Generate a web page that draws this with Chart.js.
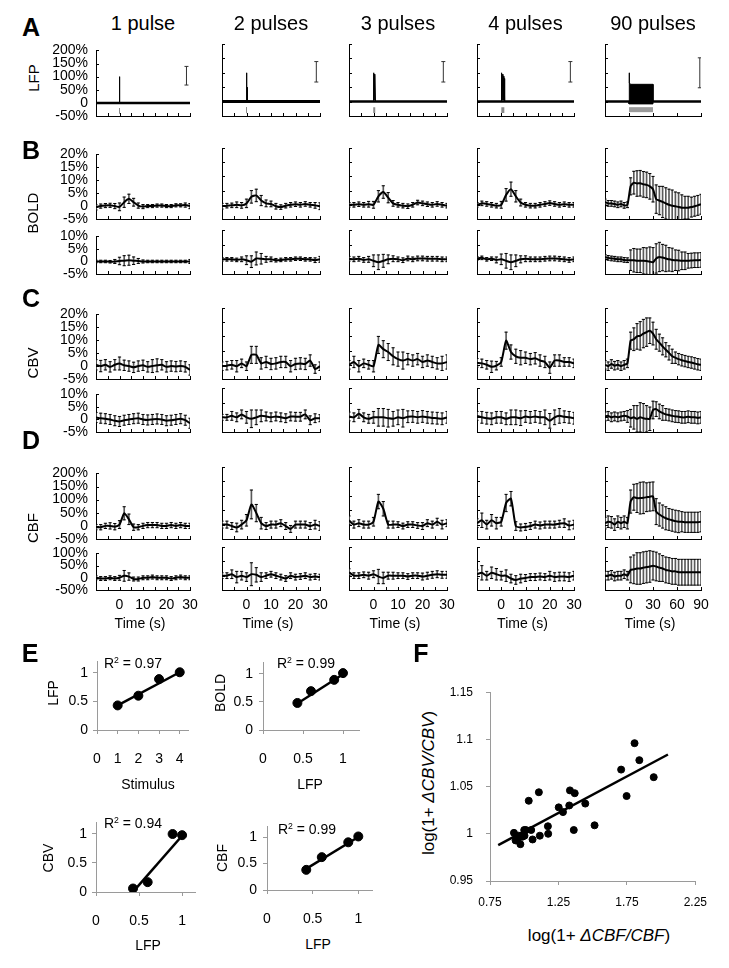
<!DOCTYPE html>
<html>
<head>
<meta charset="utf-8">
<script src="https://cdn.jsdelivr.net/npm/chart.js@4.4.1/dist/chart.umd.min.js"></script>
<style>
body { margin: 0; background: #fff; }
#fig { position: relative; width: 729px; height: 968px; overflow: hidden; font-family: "Liberation Sans", Arial, sans-serif; color: #000; }
#fig canvas { position: absolute; }
.t { position: absolute; white-space: nowrap; transform: translate(-50%, -50%); line-height: 1; z-index: 2; }
.t.r { transform: translate(-50%, -50%) rotate(-90deg); }
.t sup { font-size: 0.62em; vertical-align: 0.55em; line-height: 0; }
</style>
</head>
<body>
<div id="fig"></div>
<script>
// ---- data ----
const pulseLabels = ['1 pulse', '2 pulses', '3 pulses', '4 pulses', '90 pulses'];
const tShort = [-10,-8,-6,-4,-2,0,2,4,6,8,10,12,14,16,18,20,22,24,26,28,30];
const tLong = [-30,-26,-22,-18,-14,-10,-6,-2,2,6,10,14,18,22,26,30,34,38,42,46,50,54,58,62,66,70,74,78,82,86,90];

// LFP spikes (time s, % change)
const spikeT = [
  [0,0,0.1],
  [0,0,0.15,0.3,0.3,0.45],
  [0,0,0.2,0.3,0.5,0.6,0.8],
  [0,0,0.3,0.4,0.7,0.8,1.1,1.2,1.4],
  [0,0,0.8,2,30,30]
];
const spikeV = [
  [0,100,0],
  [0,100,0,0,50,0],
  [0,100,5,95,5,90,0],
  [0,100,5,95,5,88,5,80,0],
  [0,100,65,60,60,0]
];
const blockLowT = [0,0,30,30];
const blockLowV = [0,-8,-8,0];
const stimStart = [0,0,0,0,0];
const stimEnd = [0,0,0.6,1.3,30];
const scaleBarT = [28.5,28.5,28.5,28.5,88.5];
const scaleBarLo = [68,68,68,68,48];
const scaleBarHi = [139,139,139,139,152];

const boldResp = [
  [-0.5,0,0.2,0.3,0,-0.3,1.5,2.8,1.5,0.2,-0.2,0,0,0.2,0.2,0,0,0.3,0.3,0.4,0],
  [-0.5,-0.3,-0.2,0,-0.2,0.5,2.8,3.3,1.5,0.5,0.3,-0.5,-0.8,-0.3,0,0.2,0,0.3,0,-0.2,-0.5],
  [0,0,0.2,0,0.2,0,3,4.5,2.5,0.5,0,-0.3,-0.5,0,0.8,0.5,0.2,0,0.3,0,-0.3],
  [0,0.5,0.3,0,-0.3,0,3.5,5.5,3,0.8,0,-0.3,-0.3,0,0.3,0.6,0.3,0,0.2,0,0],
  [1,0.5,0.5,0.3,0,0.3,-0.2,0,6.5,7.8,7.5,7.6,7.2,7,6.5,5.5,2,1.5,1,0.5,0,-0.3,-0.5,-0.8,-1,-1,-1,-0.8,-0.5,-0.2,0.2]
];
const boldRespErr = [
  [1,0.8,0.8,0.8,1,1.5,2,1.8,1.5,1,0.8,0.6,0.6,0.6,0.6,0.6,0.6,0.6,0.6,0.8,1],
  [1,0.8,0.8,1,1,1.5,2.2,2.2,1.8,1.2,1,1,0.8,0.8,0.8,0.8,0.8,0.8,0.8,1,1.2],
  [0.8,0.8,0.8,0.8,1,1.2,2,2.2,1.8,1,0.8,0.8,0.8,0.8,0.8,0.8,0.8,0.8,0.8,0.8,0.8],
  [0.8,0.8,0.8,0.8,0.8,1.2,2.2,2.5,2,1.2,0.8,0.8,0.8,0.8,0.8,0.8,0.8,0.8,0.8,0.8,0.8],
  [1,1,1,1,1,1,1,1,3,4,4.5,4.5,4.5,4.5,4.5,4.5,5,5,5.5,5.5,5.5,5.5,5,5,4.5,4,4,3.5,3.5,3.5,3.5]
];
const boldCtrl = [
  [0,0,0,-0.1,0,0.2,0.3,0.5,0.3,0.2,0,0,0,0,0,0,0,0,0,0,0],
  [0,0,0,-0.2,0,-0.3,-0.8,0.3,0.2,0,0,-0.3,-0.2,0,0,0.2,0.2,0,0,-0.3,0],
  [0.2,0,0.2,-0.2,0,-0.5,-1,-0.5,0,0.2,0,-0.3,0.3,0,0.3,0.3,0.2,0.2,0.2,0,0],
  [0.3,0.5,0,0.2,-0.2,0,-0.5,-1,-0.5,0,0.2,0,0,0,0.2,0.3,0.3,0.2,0,-0.2,0],
  [0.8,0.5,0.3,0.2,0,0,-0.2,-0.3,-0.3,-0.3,-0.5,-0.5,-0.5,-0.6,-0.8,-1,0.3,0.8,0.6,0.3,0,-0.2,-0.3,-0.4,-0.5,-0.5,-0.5,-0.4,-0.3,-0.3,-0.2]
];
const boldCtrlErr = [
  [0.5,0.5,0.5,0.5,0.8,1.5,2,2,1.5,1,0.6,0.5,0.5,0.5,0.5,0.5,0.5,0.5,0.5,0.5,0.8],
  [0.6,0.6,0.6,0.6,0.8,1.5,2,2.2,1.8,1,0.8,0.6,0.6,0.6,0.6,0.6,0.6,0.6,0.6,0.8,1],
  [0.8,0.8,0.8,0.8,1,2,2.5,2.2,1.5,1,0.8,0.8,0.8,0.8,0.8,0.8,0.8,0.8,0.8,0.8,0.8],
  [0.6,0.6,0.6,0.6,1,1.8,2.5,2.5,2,1.2,1,0.8,0.8,0.8,0.8,0.8,0.8,0.8,0.8,0.8,0.8],
  [0.8,0.8,0.8,0.8,0.8,0.8,0.8,0.8,3.5,4,4,4,4.5,4.5,5,5,5,5,4.5,4.5,4,4,3.5,3.5,3,3,2.5,2.5,2.5,2.5,2.5]
];
const cbvResp = [
  [0.5,0,0.5,-0.3,0.5,1,0.3,0,-0.5,0,0.3,-0.3,0,0.3,0.5,-0.3,0,-0.2,0,-0.3,-1.5],
  [-0.5,-0.3,0,-0.5,0.5,-0.5,3.5,3.5,0.5,1,0.3,0.5,1,1,-0.5,0.3,0.5,0.3,1.5,-1.5,-0.5],
  [0,1,-0.5,0.5,0,-0.5,7,5.5,4.5,3,2,1.5,2,1.5,2,1,1.5,1,0.5,0.5,1],
  [0.7,0.5,0,-0.7,-0.3,1,8.5,4.5,3,2.5,2.5,2,2.3,1.5,1,-1,1.5,1.5,1,1,0.5],
  [0,-0.5,0.3,-0.3,0,-0.5,0,0.5,8.5,9,10,10.2,11,11.5,12,11,9,7.8,6.5,5.3,4.2,3,2.5,2,1.6,1.3,1,0.8,0.5,0.2,0]
];
const cbvRespErr = [
  [2,2.2,2,2,2,2.5,2,2,2,2,2,2,2.5,2.5,2,2,2,2,2,2,2],
  [1.5,1.5,1.5,2,1.5,1.5,3,3,2,2,2,2,2,2,2,2,2,2,2,1.5,1.5],
  [1.5,2,2,1.5,1.5,2,3,3,3,3,2.5,3,2,2,2,2,2,2,2,2.5,2.5],
  [1.5,1.5,1.5,2,1.5,1.5,3,2.5,2.5,2.5,2,2,2,2,2,2,2,2,1.5,1.5,1.5],
  [1.5,1.5,1.5,1.5,1.5,1.5,1.5,1.5,3,4,4.5,5,5,5,4.5,4,3.5,3,3,2.5,2.5,2.5,2,2,2,2,2,2,2,2,2]
];
const cbvCtrl = [
  [0.8,0.5,0.3,0,-0.5,-0.8,-0.3,0,0.3,0.5,0,-0.2,0,0.2,0,-0.5,-0.3,0,0.3,-0.3,-1.5],
  [0,0,0.5,0,1,0,-0.5,0,0.5,0.3,0,0.3,0,-0.3,0.3,0.2,0.2,1,-1,-0.3,-0.3],
  [0.3,0,1.2,0,-0.5,0,0,0,-0.3,-0.5,0,-0.3,0.2,0.3,0,0.3,0,-0.2,-0.3,-0.5,0],
  [0.5,0,-0.3,-0.5,0,0,-0.5,0,0,-0.3,0.3,0,0.3,0,0,-1.2,0,0.5,0.2,0,-0.3],
  [0.3,0.5,0,0.3,0,0.3,0.5,0.3,-0.3,0,-0.5,0,-0.3,-0.5,-0.5,2.5,2.8,2,1.5,1,0.8,0.5,0.3,0.2,0,0,0.2,0,0,-0.2,0]
];
const cbvCtrlErr = [
  [2,2,2,2,2,2,2,2,2,2,2,2,2,2,2,2,2,2,2,2,2],
  [1,1,1.5,1.5,1.5,2,3,2.5,2,1.5,1.5,1.5,1.5,1.5,1.5,1.5,1.5,1.5,1.5,1.5,1.2],
  [1.5,1.5,1.5,1.5,1.5,2,3,3,3,2.5,2.5,3,2,2,2,2,2,2,2,2,2],
  [1.5,2,2,2,2,2,2,2.5,2.5,2.5,2,2,2,2,2.5,2.5,2.5,2.5,2,2,2],
  [1.5,1.5,1.5,1.5,1.5,1.5,1.5,2,3,4,4.5,5,5,4.5,4,3,2.5,2.5,2.5,2,2,2,2,2,2,2,2,2,2,2,2]
];
const cbfResp = [
  [-5,-5,0,0,-3,5,48,25,-5,-5,0,3,3,3,0,0,3,0,3,0,0],
  [0,0,-5,-10,0,15,70,40,5,-5,0,0,5,-5,-15,0,0,0,-5,0,-5],
  [15,0,5,0,0,10,80,55,0,0,0,-5,0,0,-3,-5,5,0,10,0,5],
  [5,15,0,15,5,10,75,90,-5,-10,-8,-5,0,-3,0,0,0,3,5,-3,0],
  [5,10,8,0,10,5,10,5,80,95,92,92,93,95,97,98,45,35,28,22,18,15,12,10,10,8,8,8,8,8,10]
];
const cbfRespErr = [
  [10,10,10,12,12,15,25,20,12,10,10,10,10,10,10,10,10,10,10,10,10],
  [12,12,12,15,15,20,50,30,20,12,12,12,12,12,12,12,12,12,12,15,15],
  [15,12,12,12,12,15,25,25,12,12,10,10,10,10,10,12,12,12,12,15,12],
  [15,25,15,20,20,15,30,25,15,12,12,12,12,12,12,12,12,12,15,15,15],
  [20,20,20,20,20,20,20,20,40,45,50,55,55,50,50,50,45,40,40,40,38,38,38,38,35,35,35,35,35,35,35]
];
const cbfCtrl = [
  [0,-3,-3,0,-3,0,8,5,-5,-5,0,0,3,0,0,0,-3,0,3,0,0],
  [0,0,5,-5,0,-5,5,3,-5,0,5,0,-5,-10,0,-5,-3,0,-5,-3,-5],
  [12,0,0,3,0,5,-3,-8,0,0,0,0,-3,0,0,-3,0,3,5,3,3],
  [5,10,0,10,5,0,0,-10,-15,-10,-8,-5,-5,-3,-5,0,-5,-3,-3,-5,0],
  [0,0,3,-3,0,0,5,0,20,22,25,25,28,30,32,35,32,28,25,20,18,15,15,12,12,12,12,12,12,12,12]
];
const cbfCtrlErr = [
  [8,8,8,8,8,10,22,15,8,8,8,8,8,8,8,8,8,8,8,8,8],
  [10,10,15,20,15,15,40,25,15,10,10,10,10,10,10,10,10,10,10,10,10],
  [12,10,10,10,12,12,25,20,12,12,10,10,10,10,10,12,12,12,12,12,12],
  [15,25,15,20,20,15,20,15,15,15,12,12,12,12,12,15,15,15,15,15,15],
  [15,15,15,15,15,15,15,15,45,50,55,55,55,55,55,50,50,48,45,45,45,45,45,45,45,45,45,45,45,45,45]
];

// E: normalised peak responses
const stimLevels = [1, 2, 3, 4];
const lfpNorm = [0.43, 0.6, 0.89, 1.0];
const lfpPeak = [0.43, 0.6, 0.89, 1.01];
const boldNorm = [0.48, 0.69, 0.89, 1.01];
const cbvNorm = [0.06, 0.17, 1.0, 0.98];
const cbfNorm = [0.38, 0.62, 0.9, 1.01];
const fitLfpX = [1, 4], fitLfpY = [0.43, 1.01];
const fitBoldX = [0.43, 1.0], fitBoldY = [0.47, 0.99];
const fitCbvX = [0.44, 1.0], fitCbvY = [0.02, 0.97];
const fitCbfX = [0.41, 1.0], fitCbfY = [0.38, 1.0];

// F: log(1+dCBF/CBF) vs log(1+dCBV/CBV)
const logCbf = [0.925,0.937,0.953,0.960,0.972,0.988,1.0,1.002,1.012,1.033,1.051,1.061,1.107,1.114,1.173,1.175,1.252,1.283,1.329,1.334,1.369,1.362,1.446,1.514,1.708,1.748,1.806,1.841,1.946];
const logCbv = [1.001,0.993,0.994,0.998,0.989,0.997,1.004,0.998,1.004,1.035,1.004,0.994,1.044,0.998,1.008,1.000,1.028,1.023,1.030,1.046,1.043,1.004,1.032,1.009,1.068,1.040,1.096,1.078,1.060];
const fitFX = [0.81, 2.05], fitFY = [0.988, 1.084];

// ---- setup ----
Chart.defaults.font.family = "'Liberation Sans', Arial, sans-serif";
Chart.defaults.font.size = 14;
Chart.defaults.color = '#000';
Chart.defaults.animation = false;
Chart.defaults.plugins.legend.display = false;
Chart.defaults.plugins.tooltip.enabled = false;

const fig = document.getElementById('fig');

function label(html, x, y, size, opt) {
  opt = opt || {};
  const d = document.createElement('div');
  d.className = 't' + (opt.rot ? ' r' : '');
  d.style.left = x + 'px';
  d.style.top = y + 'px';
  d.style.fontSize = size + 'px';
  if (opt.bold) d.style.fontWeight = 'bold';
  d.innerHTML = html;
  fig.appendChild(d);
}

function addCanvas(left, top, w, h) {
  const c = document.createElement('canvas');
  c.width = w; c.height = h;
  c.style.left = left + 'px'; c.style.top = top + 'px';
  c.style.width = w + 'px'; c.style.height = h + 'px';
  fig.appendChild(c);
  return c;
}

function steps(a, b, s) {
  const out = [];
  for (let v = a; v <= b + 1e-9; v += s) out.push(v);
  return out;
}

const num = v => String(Math.round(v * 100) / 100);

// small inward tick marks like the original figure
const innerTicks = {
  id: 'innerTicks',
  afterDatasetsDraw(chart, args, opts) {
    const { ctx, chartArea: a, scales } = chart;
    ctx.save();
    ctx.strokeStyle = '#000';
    ctx.lineWidth = 1;
    ctx.beginPath();
    (opts.x || []).forEach(v => {
      const px = Math.round(scales.x.getPixelForValue(v)) + 0.5;
      ctx.moveTo(px, a.bottom); ctx.lineTo(px, a.bottom - 3);
    });
    (opts.y || []).forEach(v => {
      const py = Math.round(scales.y.getPixelForValue(v)) + 0.5;
      ctx.moveTo(a.left, py); ctx.lineTo(a.left + 3, py);
    });
    ctx.stroke();
    ctx.restore();
  }
};

const colLeft = [96, 222, 349, 477, 605];
const colWidth = [94, 98, 98, 97, 96];

const lfpRow = { top: 44, bottom: 116, min: -50, max: 200, step: 50 };
const rows = [
  { top: 148, bottom: 219, min: -5, max: 20, step: 5, m: boldResp, e: boldRespErr },
  { top: 230, bottom: 274, min: -5, max: 10, step: 5, m: boldCtrl, e: boldCtrlErr },
  { top: 308, bottom: 379, min: -5, max: 20, step: 5, m: cbvResp, e: cbvRespErr },
  { top: 388, bottom: 432, min: -5, max: 10, step: 5, m: cbvCtrl, e: cbvCtrlErr },
  { top: 467, bottom: 539, min: -50, max: 200, step: 50, m: cbfResp, e: cbfRespErr },
  { top: 547, bottom: 590, min: -50, max: 100, step: 50, m: cbfCtrl, e: cbfCtrlErr }
];

function tracePanel(c, row, datasets, showY, showX) {
  const YW = 50, PT = 10, PR = 16, XH = 24;
  const w = colWidth[c], h = row.bottom - row.top;
  const cv = addCanvas(colLeft[c] - YW, row.top - PT, YW + w + PR, PT + h + XH);
  const long = c === 4;
  new Chart(cv, {
    type: 'line',
    data: { datasets },
    options: {
      responsive: false,
      layout: { padding: { top: PT, right: PR, left: 0, bottom: 0 } },
      scales: {
        x: {
          type: 'linear', min: long ? -30 : -10, max: long ? 90 : 30, offset: false,
          grid: { display: false, drawTicks: false },
          border: { color: '#000', width: 1 },
          ticks: { display: showX, stepSize: long ? 30 : 10, includeBounds: false, autoSkip: false,
                   maxRotation: 0, padding: 7, callback: v => (v < 0 ? '' : v) },
          afterFit: s => { s.height = XH; }
        },
        y: {
          type: 'linear', min: row.min, max: row.max,
          grid: { display: false, drawTicks: false },
          border: { color: '#000', width: 1 },
          ticks: { display: showY, stepSize: row.step, padding: 8, autoSkip: false,
                   callback: v => (v === 0 ? '0' : v + '%') },
          afterFit: s => { s.width = YW; }
        }
      },
      plugins: {
        innerTicks: {
          x: long ? steps(-30, 90, 30) : steps(-10, 30, 5),
          y: steps(row.min, row.max, row.step)
        }
      }
    },
    plugins: [innerTicks]
  });
}

function errorSets(t, m, e) {
  return [
    { type: 'bar', data: t.map((x, i) => ({ x, y: [m[i] - e[i], m[i] + e[i]] })),
      backgroundColor: '#5a5a5a', barThickness: 1, order: 3 },
    { data: t.map((x, i) => ({ x, y: m[i] + e[i] })), showLine: false, pointStyle: 'line',
      pointRadius: 1.6, borderColor: '#000', borderWidth: 1, order: 2 },
    { data: t.map((x, i) => ({ x, y: m[i] - e[i] })), showLine: false, pointStyle: 'line',
      pointRadius: 1.6, borderColor: '#000', borderWidth: 1, order: 2 },
    { data: t.map((x, i) => ({ x, y: m[i] })), borderColor: '#000', borderWidth: 2,
      pointRadius: 0, tension: 0.2, order: 0 }
  ];
}

function lfpSets(c) {
  const long = c === 4;
  const xr = long ? [-30, 90] : [-10, 30];
  const sets = [
    { data: xr.map(x => ({ x, y: 0 })), borderColor: '#000', borderWidth: c === 1 ? 3 : 2.5, pointRadius: 0 },
    { data: spikeT[c].map((x, i) => ({ x, y: spikeV[c][i] })), borderColor: '#000', borderWidth: 1,
      pointRadius: 0, fill: long ? 'origin' : false, backgroundColor: '#000' },
    { data: [{ x: scaleBarT[c], y: scaleBarLo[c] }, { x: scaleBarT[c], y: scaleBarHi[c] }],
      borderColor: '#333', borderWidth: 1, pointStyle: 'line', pointRadius: 2, pointBorderWidth: 1 }
  ];
  if (long) {
    sets.push({ data: blockLowT.map((x, i) => ({ x, y: blockLowV[i] })), borderColor: '#000', borderWidth: 1,
                pointRadius: 0, fill: 'origin', backgroundColor: '#000' });
    sets.push({ data: [{ x: stimStart[c], y: -28 }, { x: stimEnd[c], y: -28 }],
                borderColor: '#9a9a9a', borderWidth: 5, pointRadius: 0 });
  } else {
    const mid = (stimStart[c] + stimEnd[c]) / 2;
    sets.push({ data: [{ x: mid, y: -20 }, { x: mid, y: -40 }],
                borderColor: '#8a8a8a', borderWidth: [1, 1, 2, 3][c], pointRadius: 0 });
  }
  return sets;
}

for (let c = 0; c < 5; c++) {
  tracePanel(c, lfpRow, lfpSets(c), c === 0, false);
  rows.forEach((r, ri) => {
    const t = c === 4 ? tLong : tShort;
    tracePanel(c, r, errorSets(t, r.m[c], r.e[c]), c === 0, ri === rows.length - 1);
  });
  label(pulseLabels[c], colLeft[c] + colWidth[c] / 2, 23, 20);
  label('Time (s)', colLeft[c] + colWidth[c] / 2 - 3, 623, 14);
}

// ---- scatter panels (E, F) ----
function xyPanel(box, cfg) {
  const YW = cfg.yw, PT = 10, PR = 14, XH = cfg.xh;
  const w = box.R - box.L, h = box.B - box.T;
  const cv = addCanvas(box.L - YW, box.T - PT, YW + w + PR, PT + h + XH);
  const axisCol = '#9a9a9a';
  new Chart(cv, {
    type: 'line',
    data: {
      datasets: [
        { data: cfg.xs.map((x, i) => ({ x, y: cfg.ys[i] })), showLine: false, pointRadius: cfg.r,
          pointBackgroundColor: '#000', pointBorderColor: '#000', order: 1 },
        { data: cfg.fx.map((x, i) => ({ x, y: cfg.fy[i] })), borderColor: '#000', borderWidth: cfg.lw,
          pointRadius: 0, order: 0 }
      ]
    },
    options: {
      responsive: false,
      layout: { padding: { top: PT, right: PR, left: 0, bottom: 0 } },
      scales: {
        x: {
          type: 'linear', min: cfg.xmin, max: cfg.xmax,
          grid: { drawOnChartArea: false, color: axisCol, tickLength: 4 },
          border: { color: axisCol, width: 1 },
          ticks: { stepSize: cfg.xstep, includeBounds: false, autoSkip: false, maxRotation: 0,
                   padding: cfg.xpad, font: { size: cfg.fs }, callback: num },
          afterFit: s => { s.height = XH; }
        },
        y: {
          type: 'linear', min: cfg.ymin, max: cfg.ymax,
          grid: { drawOnChartArea: false, color: axisCol, tickLength: 4 },
          border: { color: axisCol, width: 1 },
          ticks: { stepSize: cfg.ystep, includeBounds: false, autoSkip: false, padding: cfg.ypad,
                   font: { size: cfg.fs }, callback: num },
          afterFit: s => { s.width = YW; }
        }
      }
    }
  });
}

const eBase = { yw: 40, xh: 44, xmin: 0, ymin: 0, ymax: 1.2, ystep: 0.5, xpad: 17, ypad: 5, fs: 14, r: 4.5, lw: 2.5 };
xyPanel({ L: 97, T: 658, R: 188, B: 730 }, Object.assign({}, eBase,
  { xmax: 4.4, xstep: 1, xs: stimLevels, ys: lfpPeak, fx: fitLfpX, fy: fitLfpY }));
xyPanel({ L: 263, T: 658, R: 359, B: 730 }, Object.assign({}, eBase,
  { xmax: 1.2, xstep: 0.5, ypad: 6, xs: lfpNorm, ys: boldNorm, fx: fitBoldX, fy: fitBoldY }));
xyPanel({ L: 96, T: 819, R: 195, B: 892 }, Object.assign({}, eBase,
  { xmax: 1.15, xstep: 0.5, xs: lfpNorm, ys: cbvNorm, fx: fitCbvX, fy: fitCbvY }));
xyPanel({ L: 267, T: 822, R: 372, B: 890 }, Object.assign({}, eBase,
  { xmax: 1.15, xstep: 0.5, ypad: 6, xs: lfpNorm, ys: cbfNorm, fx: fitCbfX, fy: fitCbfY }));

xyPanel({ L: 490, T: 682, R: 703, B: 881 }, {
  yw: 50, xh: 36, xmin: 0.75, xmax: 2.25, xstep: 0.5, ymin: 0.95, ymax: 1.15, ystep: 0.05,
  xpad: 10, ypad: 13, fs: 12, r: 3.5, lw: 2.5,
  xs: logCbf, ys: logCbv, fx: fitFX, fy: fitFY
});

// ---- text ----
label('A', 31, 27, 25, { bold: true });
label('B', 31, 150, 25, { bold: true });
label('C', 31, 298, 25, { bold: true });
label('D', 31, 440, 25, { bold: true });
label('E', 30, 653, 25, { bold: true });
label('F', 421, 653, 25, { bold: true });

label('LFP', 33, 78, 15, { rot: true });
label('BOLD', 32, 213, 15, { rot: true });
label('CBV', 32, 363, 15, { rot: true });
label('CBF', 32, 528, 15, { rot: true });

label('R<sup>2</sup> = 0.97', 133, 663, 14);
label('R<sup>2</sup> = 0.99', 306, 663, 14);
label('R<sup>2</sup> = 0.94', 133, 823, 14);
label('R<sup>2</sup> = 0.99', 307, 829, 14);
label('Stimulus', 148, 784, 14);
label('LFP', 310, 784, 14);
label('LFP', 148, 945, 14);
label('LFP', 318, 944, 14);
label('LFP', 53, 693, 14, { rot: true });
label('BOLD', 220, 693, 14, { rot: true });
label('CBV', 48, 858, 14, { rot: true });
label('CBF', 222, 858, 14, { rot: true });

label('log(1+ <i>ΔCBV/CBV</i>)', 428, 783, 17, { rot: true });
label('log(1+ <i>ΔCBF/CBF</i>)', 599, 935, 17);
</script>
</body>
</html>
